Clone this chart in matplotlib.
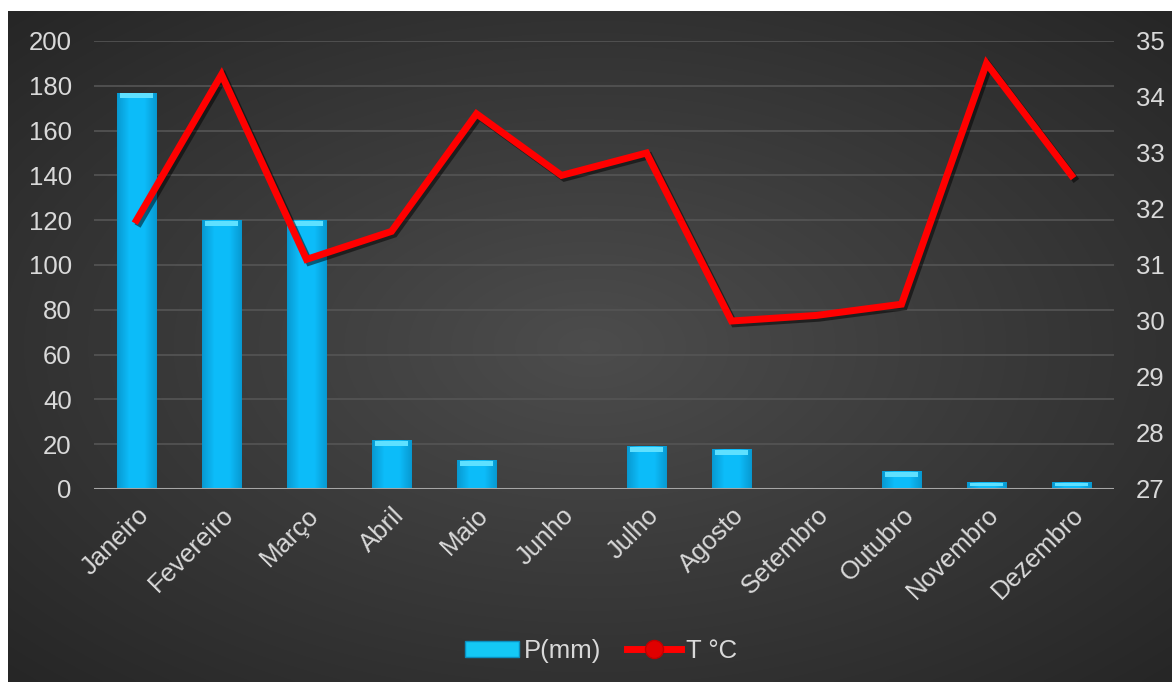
import numpy as np
import matplotlib
matplotlib.use("Agg")
import matplotlib.pyplot as plt
from matplotlib.lines import Line2D
from matplotlib.patches import Rectangle
import matplotlib.patheffects as pe

months = ["Janeiro", "Fevereiro", "Março", "Abril", "Maio", "Junho", "Julho",
          "Agosto", "Setembro", "Outubro", "Novembro", "Dezembro"]
precip = [177, 120, 120, 22, 13, 0, 19, 18, 0, 8, 3, 3]
temp = [31.8, 34.4, 31.1, 31.6, 33.7, 32.6, 33.0, 30.0, 30.1, 30.3, 34.6, 32.6]
left_ticks = [0, 20, 40, 60, 80, 100, 120, 140, 160, 180, 200]
right_ticks = [27, 28, 29, 30, 31, 32, 33, 34, 35]

plt.rcParams['font.family'] = ['Liberation Sans', 'DejaVu Sans']
W, H = 1172, 682
fig = plt.figure(figsize=(W / 100, H / 100), dpi=100)
fig.patch.set_facecolor('white')

# background panel with radial gradient
bg = fig.add_axes([8 / W, 0, 1 - 8 / W, 1 - 11 / H])
bg.set_axis_off()
yy, xx = np.mgrid[0:1:300j, 0:1:500j]
r = np.sqrt(((xx - 0.5) / 0.75) ** 2 + ((yy - 0.5) / 0.75) ** 2)
v = 0.30 - 0.16 * np.clip(r, 0, 1)
img = np.dstack([v, v, v])
bg.imshow(img, aspect='auto', extent=[0, 1, 0, 1], interpolation='bicubic')
bg.set_xlim(0, 1)
bg.set_ylim(0, 1)

x0, x1 = 94, 1114
y0, y1 = 489, 41
ax = fig.add_axes([x0 / W, 1 - y0 / H, (x1 - x0) / W, (y0 - y1) / H])
ax.set_facecolor('none')
ax.patch.set_alpha(0)
xs = np.arange(len(months))
ax.set_xlim(-0.5, len(months) - 0.5)
ax.set_ylim(0, 200)
ax.set_yticks(left_ticks)
ax.yaxis.grid(True, color='#555555', lw=1.2)
ax.set_axisbelow(True)
for s in ax.spines.values():
    s.set_visible(False)
ax.tick_params(axis='both', length=0, colors='#d9d9d9', labelsize=18.5)
ax.tick_params(axis='y', pad=16)

bars = ax.bar(xs, precip, width=0.47, color='#0cb2ec', zorder=2)
grad = np.linspace(0, 1, 64)
prof = 1 - np.abs(grad - 0.5) * 2
cols = np.zeros((1, 64, 3))
base = np.array([0.03, 0.60, 0.82])
light = np.array([0.05, 0.74, 0.98])
cols[0] = base[None, :] + (light - base)[None, :] * np.clip(prof * 1.6, 0, 1)[:, None]
for b in bars:
    h = b.get_height()
    if h <= 0:
        continue
    bx, bw = b.get_x(), b.get_width()
    im = ax.imshow(cols, extent=[bx, bx + bw, 0, h], aspect='auto', zorder=2.1,
                   interpolation='bilinear')
    im.set_clip_path(b)
    cap = min(2.2, h * 0.45)
    ax.add_patch(Rectangle((bx + bw * 0.08, h - cap - 0.4), bw * 0.84, cap,
                           color='#5fe0ff', lw=0, zorder=2.2))
ax.set_xlim(-0.5, len(months) - 0.5)
ax.set_ylim(0, 200)
ax.axhline(0, color='#a6a6a6', lw=2.2, zorder=3)

ax.set_xticks(xs)
ax.set_xticklabels(months, rotation=45, ha='right', rotation_mode='anchor')
ax.tick_params(axis='x', pad=10)

ax2 = ax.twinx()
ax2.set_ylim(27, 35)
ax2.set_yticks(right_ticks)
for s in ax2.spines.values():
    s.set_visible(False)
ax2.tick_params(axis='y', length=0, colors='#d9d9d9', labelsize=18.5, pad=16)
ax2.plot(xs, temp, color='#ff0000', lw=5, solid_joinstyle='miter', zorder=4,
         path_effects=[pe.SimpleLineShadow(offset=(2, -2), shadow_color='black', alpha=0.5),
                       pe.Normal()])

h1 = Rectangle((0, 0), 1, 1, facecolor='#14c8f5', edgecolor='#0a8fc0', lw=1)
h2 = Line2D([0], [0], color='#ff0000', lw=5, marker='o', markersize=13,
            markerfacecolor='#e00000', markeredgecolor='#c00000')
fig.legend([h1, h2], ['P(mm)', 'T °C'], loc='center', bbox_to_anchor=(601 / W, 1 - 651 / H),
           ncol=2, frameon=False, fontsize=18.5, labelcolor='#d9d9d9',
           handlelength=2.1, handleheight=0.6, handletextpad=0.2, columnspacing=1.0)

fig.savefig('out.png', dpi=100)
